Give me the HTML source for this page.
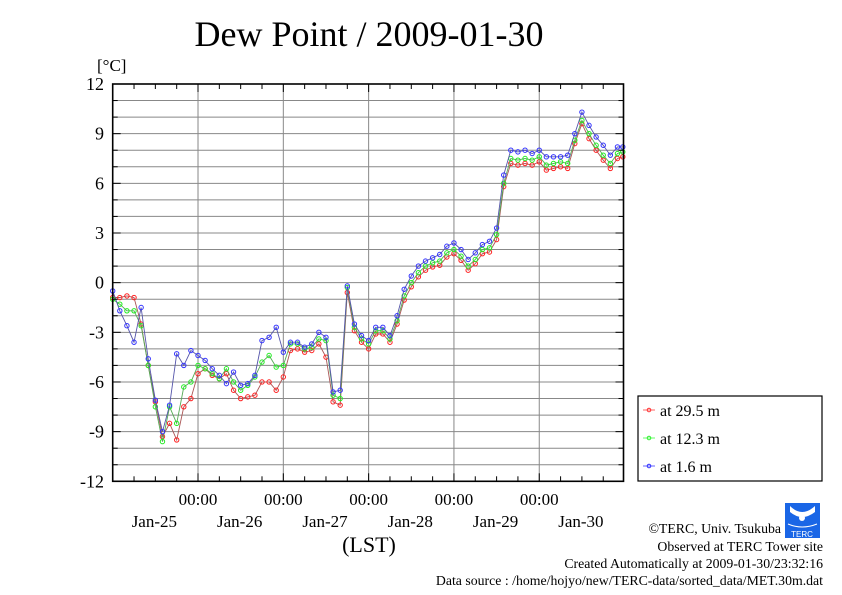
<!DOCTYPE html>
<html><head><meta charset="utf-8"><style>
body{margin:0;background:#fff;}
svg{display:block;font-family:"Liberation Serif",serif;}
</style></head><body>
<svg id="chart" width="842" height="595" viewBox="0 0 842 595">
<rect x="0" y="0" width="842" height="595" fill="#fff"/>
<text x="369" y="46" font-size="36" text-anchor="middle">Dew Point / 2009-01-30</text>
<text x="97" y="71" font-size="17">[°C]</text>
<g id="grid"></g><g id="series"></g><g id="axes"></g>
<text x="369" y="552" font-size="22" text-anchor="middle">(LST)</text>
<g>
<rect x="638" y="396" width="184" height="85" fill="#fff" stroke="#000" stroke-width="1.2"/>
<g><line x1="643" y1="410" x2="655" y2="410" stroke="#f66"/><circle cx="649" cy="410" r="1.8" fill="none" stroke="#f33"/><text x="660" y="416" font-size="16">at 29.5 m</text></g>
<g><line x1="643" y1="438" x2="655" y2="438" stroke="#6f6"/><circle cx="649" cy="438" r="1.8" fill="none" stroke="#3e3"/><text x="660" y="444" font-size="16">at 12.3 m</text></g>
<g><line x1="643" y1="466" x2="655" y2="466" stroke="#66f"/><circle cx="649" cy="466" r="1.8" fill="none" stroke="#33f"/><text x="660" y="472" font-size="16">at 1.6 m</text></g>
</g>
<g>
<rect x="785" y="503" width="35" height="35" fill="#1a66e6"/>
<path d="M790 506 Q802 518 815 506 L815 512 Q802 522 790 512Z" fill="#fff"/>
<circle cx="802" cy="518" r="3" fill="#fff"/>
<path d="M788 524 Q802 530 817 524" stroke="#fff" fill="none"/>
<text x="802" y="537" font-size="8" fill="#fff" text-anchor="middle" font-family="Liberation Sans,sans-serif">TERC</text>
</g>
<g font-size="13.8" text-anchor="end">
<text x="781" y="533">©TERC, Univ. Tsukuba</text>
<text x="823" y="551">Observed at TERC Tower site</text>
<text x="823" y="568">Created Automatically at 2009-01-30/23:32:16</text>
<text x="823" y="585">Data source : /home/hojyo/new/TERC-data/sorted_data/MET.30m.dat</text>
</g>
</svg>
<script>
const hours=[0,2,4,6,8,10,12,14,16,18,20,22,24,26,28,30,32,34,36,38,40,42,44,46,48,50,52,54,56,58,60,62,64,66,68,70,72,74,76,78,80,82,84,86,88,90,92,94,96,98,100,102,104,106,108,110,112,114,116,118,120,122,124,126,128,130,132,134,136,138,140,142,143.5];
const red=[-0.9,-0.9,-0.8,-0.9,-2.5,-5.0,-7.2,-9.3,-8.5,-9.5,-7.5,-7.0,-5.5,-5.2,-5.6,-5.8,-5.5,-6.5,-7.0,-6.9,-6.8,-6.0,-6.0,-6.5,-5.7,-4.1,-4.0,-4.2,-4.1,-3.7,-4.5,-7.2,-7.4,-0.6,-2.9,-3.6,-4.0,-3.1,-3.1,-3.6,-2.5,-1.05,-0.25,0.35,0.75,0.95,1.05,1.55,1.75,1.35,0.75,1.15,1.75,1.85,2.6,5.8,7.2,7.1,7.2,7.1,7.3,6.8,6.9,7.0,6.9,8.4,9.6,8.7,8.0,7.4,6.9,7.5,7.6];
const green=[-1.0,-1.3,-1.7,-1.7,-2.6,-5.0,-7.5,-9.6,-7.5,-8.5,-6.3,-6.0,-5.0,-5.2,-5.5,-5.8,-5.2,-6.0,-6.5,-6.2,-5.7,-4.8,-4.4,-5.1,-5.0,-3.7,-3.7,-4.0,-3.9,-3.4,-3.5,-6.8,-7.0,-0.3,-2.7,-3.4,-3.7,-2.9,-2.9,-3.4,-2.3,-0.8,0.0,0.6,1.0,1.2,1.3,1.8,2.0,1.6,1.0,1.4,2.0,2.1,2.9,6.0,7.5,7.4,7.5,7.4,7.6,7.1,7.2,7.3,7.2,8.6,9.8,9.0,8.3,7.7,7.2,7.8,7.9];
const blue=[-0.5,-1.7,-2.6,-3.6,-1.5,-4.6,-7.1,-9.0,-7.4,-4.3,-5.0,-4.1,-4.4,-4.7,-5.2,-5.6,-6.1,-5.4,-6.2,-6.1,-5.6,-3.5,-3.3,-2.7,-4.2,-3.6,-3.6,-3.9,-3.7,-3.0,-3.3,-6.6,-6.5,-0.2,-2.5,-3.2,-3.5,-2.7,-2.7,-3.2,-2.0,-0.4,0.4,1.0,1.3,1.5,1.7,2.2,2.4,2.0,1.4,1.8,2.3,2.5,3.3,6.5,8.0,7.9,8.0,7.8,8.0,7.6,7.6,7.6,7.7,9.0,10.3,9.5,8.8,8.3,7.7,8.2,8.2];
const yTicks=[-12,-9,-6,-3,0,3,6,9,12];
const dayLabels=["Jan-25","Jan-26","Jan-27","Jan-28","Jan-29","Jan-30"];
const L=112.7,R=623.5,T=84,B=481.3,HMAX=143.7;
const xs=h=>L+(R-L)*h/HMAX;
const ys=v=>B-(B-T)*(v+12)/24;
const NS="http://www.w3.org/2000/svg";
function mk(tag,attrs,parent){const e=document.createElementNS(NS,tag);for(const k in attrs)e.setAttribute(k,attrs[k]);parent.appendChild(e);return e;}
const grid=document.getElementById('grid'),axes=document.getElementById('axes'),ser=document.getElementById('series');
for(let v=-11;v<=11;v++){const l=mk('line',{x1:L,x2:R,y1:ys(v),y2:ys(v),stroke:'#888','stroke-width':1},grid);

}
for(let d=1;d<=5;d++){const l=mk('line',{x1:xs(24*d),x2:xs(24*d),y1:T,y2:B,stroke:'#888','stroke-width':1},grid);

}
const fr=mk('rect',{x:L,y:T,width:R-L,height:B-T,fill:'none',stroke:'#000','stroke-width':1.6},axes);


for(let h=6;h<HMAX;h+=6){const len=(h%24===0)?8:5;
mk('line',{x1:xs(h),x2:xs(h),y1:B,y2:B-len,stroke:'#000'},axes);mk('line',{x1:xs(h),x2:xs(h),y1:T,y2:T+len,stroke:'#000'},axes);}
for(let v=-11;v<=11;v++){const len=(v%3===0)?8:5;
mk('line',{x1:L,x2:L+len,y1:ys(v),y2:ys(v),stroke:'#000'},axes);mk('line',{x1:R,x2:R-len,y1:ys(v),y2:ys(v),stroke:'#000'},axes);}
yTicks.forEach(v=>{const t=mk('text',{x:104,y:ys(v)+6,'font-size':18,'text-anchor':'end'},axes);t.textContent=String(v);

});
for(let d=1;d<=5;d++){const t=mk('text',{x:xs(24*d),y:505,'font-size':17,'text-anchor':'middle'},axes);t.textContent='00:00';

}
dayLabels.forEach((s,i)=>{const t=mk('text',{x:xs(24*i+12)-1,y:527,'font-size':17,'text-anchor':'middle'},axes);t.textContent=s;

});
function draw(vals,line,mark,name){
const g=mk('g',{},ser);


const pts=vals.map((v,i)=>xs(hours[i]).toFixed(1)+','+ys(v).toFixed(1)).join(' ');
mk('polyline',{points:pts,fill:'none',stroke:line,'stroke-width':0.9},g);
vals.forEach((v,i)=>{const c=mk('circle',{cx:xs(hours[i]),cy:ys(v),r:2.2,fill:'none',stroke:mark,'stroke-width':1},g);

});
}
draw(red,'#a55','#f22','series-29.5m');
draw(green,'#5a5','#2e2','series-12.3m');
draw(blue,'#55a','#33f','series-1.6m');
</script>
</body></html>
